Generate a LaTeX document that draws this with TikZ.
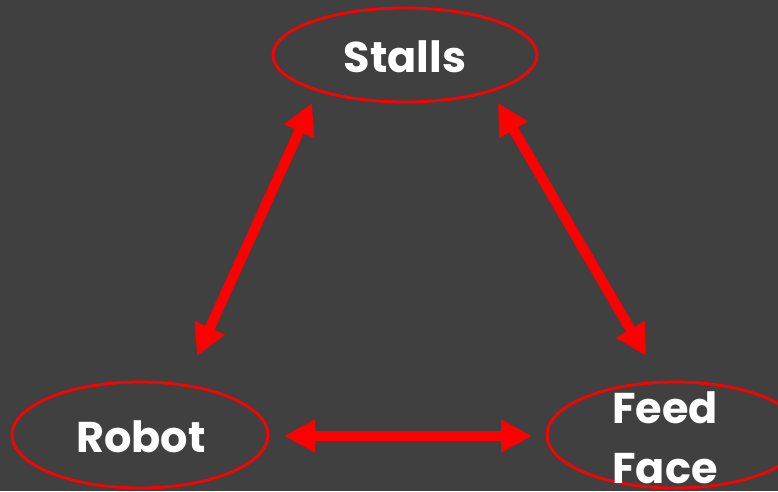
\documentclass[tikz,border=0pt]{standalone}
\usepackage{fontspec}
\setmainfont{Poppins}
\usetikzlibrary{arrows.meta,shapes.geometric}
\definecolor{bg}{HTML}{404040}
\definecolor{rd}{HTML}{FF0000}
\tikzset{
  oval/.style={draw=rd, line width=2.8pt, ellipse, inner sep=0pt, minimum width=#1},
  lbl/.style={text=white, font=\fontsize{43}{60}\selectfont\bfseries, align=center},
  dbl/.style={draw=rd, line width=10pt, {Triangle[length=31pt,width=31pt]}-{Triangle[length=31pt,width=31pt]}}
}
\begin{document}
\begin{tikzpicture}[x=1pt,y=-1pt]
\fill[bg] (0,0) rectangle (778,491);
\useasboundingbox (0,0) rectangle (778,491);
\begin{scope}
\clip (0,0) rectangle (778,491);
\node[oval=264pt, minimum height=94pt] (stalls) at (405,55) {};
\node[oval=256pt, minimum height=106pt] (robot) at (140,435) {};
\node[oval=256pt, minimum height=106pt] (feed) at (675,435) {};
\node[lbl] (stallsT) at (405,57) {Stalls};
\node[lbl] (robotT) at (141,437) {Robot};
\node[lbl, anchor=base] (feedT) at (665,483) {Feed\\Face};
\end{scope}
\coordinate (a1) at (312,103);
\coordinate (a2) at (197,356);
\coordinate (b1) at (498,103);
\coordinate (b2) at (646,356);
\coordinate (c1) at (284,436);
\coordinate (c2) at (532,436);
\draw[dbl] (a1) -- (a2);
\draw[dbl] (b1) -- (b2);
\draw[dbl] (c1) -- (c2);
\end{tikzpicture}
\end{document}
